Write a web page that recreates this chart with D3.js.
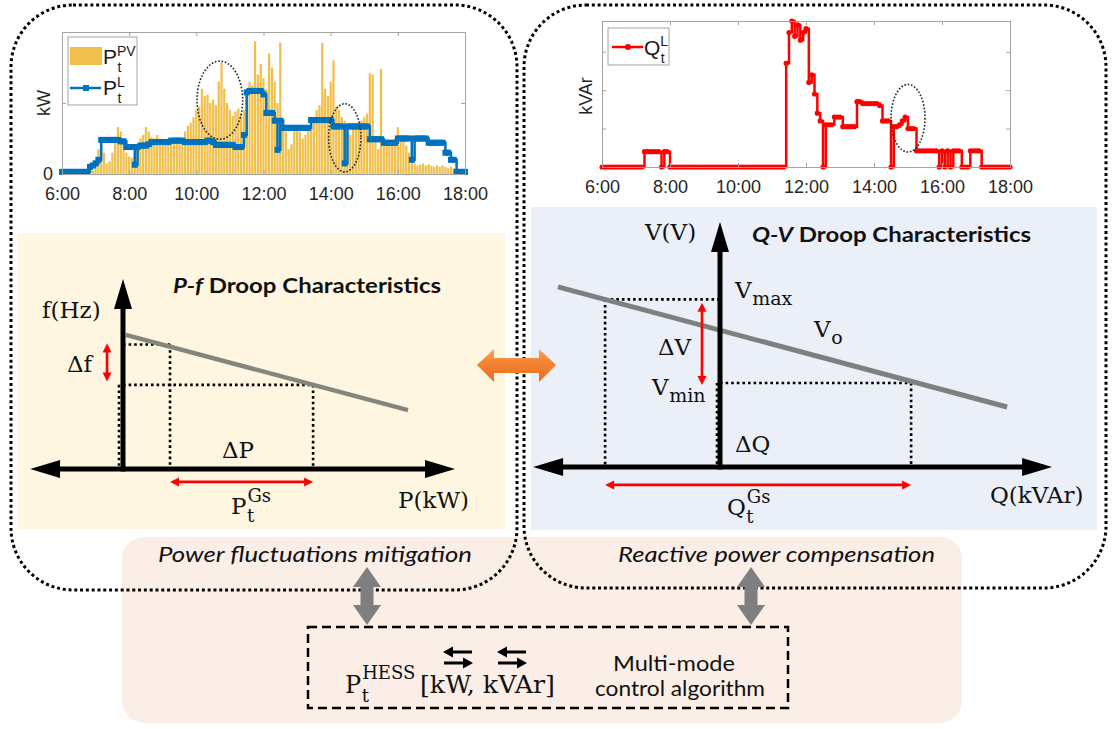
<!DOCTYPE html>
<html>
<head>
<meta charset="utf-8">
<script src="https://cdn.jsdelivr.net/npm/d3@7"></script>
<style>
  body { margin: 0; background: #ffffff; }
  svg { display: block; }
</style>
</head>
<body>
<div id="chart"></div>
<script>
// ---------------- data ----------------
// samples every 5 minutes from 6:00 to 18:00 (145 points)
var sampleMinutes = 5;
var timeTicks = [6, 8, 10, 12, 14, 16, 18];

// PV generation, kW (yellow bars)
var pvValues = [
  0, 0, 0, 0, 0, 0, 0, 0, 0, 0, 0.02, 0.05,
  0.2, 0.35, 0.5, 0.3, 0.15, 0.18, 0.3, 0.5, 0.66, 0.6, 0.45, 0.3,
  0.25, 0.23, 0.25, 0.4, 0.5, 0.55, 0.66, 0.6, 0.52, 0.5, 0.55, 0.5,
  0.45, 0.45, 0.47, 0.45, 0.47, 0.5, 0.47, 0.5, 0.6, 0.68, 0.72, 0.8,
  0.9, 0.95, 1.2, 1.1, 1.12, 1.0, 1.05, 0.97, 1.3, 1.57, 1.2, 1.0,
  0.9, 0.82, 0.88, 0.92, 0.85, 0.9, 1.2, 1.3, 1.25, 1.87, 1.4, 1.55,
  1.35, 1.2, 1.7, 1.5, 1.3, 1.0, 1.85, 0.79, 0.6, 0.35, 0.42, 0.62,
  0.65, 0.6, 0.5, 0.55, 0.68, 0.7, 0.75, 0.9, 0.97, 1.85, 1.2, 1.1,
  1.3, 1.6, 0.95, 0.9, 0.8, 0.75, 0.6, 0.55, 0.65, 0.65, 0.7, 0.75,
  0.8, 0.85, 1.42, 1.4, 0.5, 0.35, 1.48, 0.45, 0.42, 0.45, 0.48, 0.5,
  0.66, 0.45, 0.5, 0.4, 0.3, 0.22, 0.15, 0.12, 0.13, 0.15, 0.12, 0.14,
  0.12, 0.1, 0.12, 0.1, 0.12, 0.1, 0.08, 0.1, 0.08, 0.05, 0.02, 0,
  0
];

// load active power, kW (blue steps)
var loadValues = [
  0.03, 0.03, 0.03, 0.03, 0.03, 0.03, 0.03, 0.03, 0.03, 0.03, 0.1, 0.12,
  0.15, 0.2, 0.48, 0.48, 0.48, 0.48, 0.48, 0.48, 0.48, 0.46, 0.46, 0.38,
  0.38, 0.38, 0.13, 0.38, 0.4, 0.4, 0.4, 0.42, 0.45, 0.45, 0.45, 0.45,
  0.45, 0.45, 0.45, 0.47, 0.47, 0.47, 0.47, 0.47, 0.45, 0.45, 0.45, 0.45,
  0.45, 0.45, 0.45, 0.45, 0.47, 0.47, 0.45, 0.41, 0.41, 0.41, 0.41, 0.41,
  0.41, 0.41, 0.38, 0.38, 0.38, 0.55, 1.15, 1.17, 1.17, 1.17, 1.17, 1.17,
  1.12, 0.86, 0.86, 0.86, 0.75, 0.34, 0.75, 0.65, 0.65, 0.65, 0.65, 0.65,
  0.65, 0.65, 0.65, 0.65, 0.65, 0.76, 0.76, 0.76, 0.76, 0.76, 0.76, 0.76,
  0.76, 0.67, 0.67, 0.67, 0.67, 0.15, 0.67, 0.67, 0.67, 0.67, 0.67, 0.67,
  0.67, 0.67, 0.49, 0.49, 0.49, 0.49, 0.49, 0.44, 0.44, 0.44, 0.44, 0.44,
  0.5, 0.5, 0.5, 0.5, 0.5, 0.2, 0.5, 0.5, 0.5, 0.5, 0.5, 0.44,
  0.44, 0.44, 0.44, 0.44, 0.44, 0.3, 0.3, 0.2, 0.2, 0.03, 0.03, 0.03,
  0.03
];

// load reactive power, kVAr (red steps)
var qValues = [
  0, 0, 0, 0, 0, 0, 0, 0, 0, 0, 0, 0,
  0, 0, 0, 0.4, 0.4, 0.4, 0.4, 0.4, 0.4, 0, 0.4, 0.4,
  0, 0, 0, 0, 0, 0, 0, 0, 0, 0, 0, 0,
  0, 0, 0, 0, 0, 0, 0, 0, 0, 0, 0, 0,
  0, 0, 0, 0, 0, 0, 0, 0, 0, 0, 0, 0,
  0, 0, 0, 0, 0, 2.7, 3.5, 3.8, 3.4, 3.7, 3.3, 3.5,
  3.6, 2.2, 2.4, 1.9, 1.4, 1.2, 0, 1.1, 1.1, 1.1, 1.3, 1.3,
  1.3, 1.05, 1.05, 1.05, 1.05, 1.05, 1.7, 1.7, 1.65, 1.65, 1.65, 1.65,
  1.65, 1.65, 1.6, 1.2, 1.2, 1.2, 0, 1.05, 1.05, 1.1, 1.2, 1.3,
  1.0, 1.0, 1.0, 0.42, 0.42, 0.42, 0.42, 0.42, 0.42, 0.42, 0.42, 0,
  0.42, 0, 0.42, 0, 0.42, 0.42, 0.42, 0, 0, 0, 0.42, 0.42,
  0.42, 0.42, 0, 0, 0, 0, 0, 0, 0, 0, 0, 0,
  0
];

// dotted ellipses marking fluctuations: [time centre, value centre, time radius, value radius]
var pEllipses = [[10.7, 1.04, 0.68, 0.55], [14.42, 0.51, 0.48, 0.48]];
var qEllipses = [[15.0, 1.27, 0.5, 0.88]];

// P-f droop sketch (arbitrary units)
var pfAxisP = [-3.26, 11.65];
var pfAxisF = 10;
var pfDroopP = [0.1, 10];
var pfDroopF = [7.06, 3.1];
var pfOpP = [1.65, 6.67];
var pfOpF = [6.55, 4.43];

// Q-V droop sketch (arbitrary units)
var qvAxisQ = [-6.23, 11.07];
var qvAxisV = 10;
var qvDroopQ = [-5.4, 9.57];
var qvDroopV = [7.35, 2.45];
var qvOpQ = [-3.83, 6.37];
var qvOpV = [6.84, 3.43];

// ---------------- page ----------------
var mathFont = "'DejaVu Serif', serif";
var sansFont = "Lato, 'Open Sans', sans-serif";
var plotFont = "'Liberation Sans', Arial, sans-serif";

var svg = d3.select("#chart")
  .append("svg")
  .attr("width", 1112)
  .attr("height", 729);

var defs = svg.append("defs");
var grad = defs.append("linearGradient").attr("id", "orangeGrad")
  .attr("x1", 0).attr("y1", 0).attr("x2", 0).attr("y2", 1);
grad.append("stop").attr("offset", "0%").attr("stop-color", "#f9a25a");
grad.append("stop").attr("offset", "45%").attr("stop-color", "#f38131");
grad.append("stop").attr("offset", "100%").attr("stop-color", "#e8701f");

function timeAt(i) { return 6 + i * sampleMinutes / 60; }

// coloured panels
svg.append("rect").attr("x", 122).attr("y", 537).attr("width", 840).attr("height", 186)
  .attr("rx", 22).attr("fill", "#fbeee6");
svg.append("rect").attr("x", 17).attr("y", 233).attr("width", 488).attr("height", 296)
  .attr("fill", "#fff6e2");
svg.append("rect").attr("x", 531).attr("y", 207).attr("width", 566).attr("height", 323)
  .attr("fill", "#eaeff8");

// dotted rounded frames
[[11, 5, 506, 585], [524, 5, 582, 583]].forEach(function(f) {
  svg.append("rect")
    .attr("x", f[0]).attr("y", f[1]).attr("width", f[2]).attr("height", f[3])
    .attr("rx", 62).attr("fill", "none")
    .attr("stroke", "#000").attr("stroke-width", 3)
    .attr("stroke-dasharray", "3,2.8");
});

// ---------------- axis box helper for the two time plots ----------------
function drawBox(g, x, y, yTicks, yFormat) {
  var x0 = x.range()[0], x1 = x.range()[1];
  var y0 = y.range()[0], y1 = y.range()[1];
  var parts = [
    g.append("g").attr("transform", "translate(0," + y0 + ")")
      .call(d3.axisBottom(x).tickValues(timeTicks).tickFormat(function(d) { return d + ":00"; })
        .tickSizeInner(-4).tickSizeOuter(0).tickPadding(13)),
    g.append("g").attr("transform", "translate(0," + y1 + ")")
      .call(d3.axisTop(x).tickValues(timeTicks).tickFormat("").tickSizeInner(-4).tickSizeOuter(0)),
    g.append("g").attr("transform", "translate(" + x0 + ",0)")
      .call(d3.axisLeft(y).tickValues(yTicks).tickFormat(yFormat).tickSizeInner(-4).tickSizeOuter(0).tickPadding(9)),
    g.append("g").attr("transform", "translate(" + x1 + ",0)")
      .call(d3.axisRight(y).tickValues(yTicks).tickFormat("").tickSizeInner(-4).tickSizeOuter(0))
  ];
  parts.forEach(function(a) {
    a.attr("font-family", plotFont).attr("font-size", 18);
    a.select(".domain").attr("stroke", "#a3a3a3");
    a.selectAll(".tick line").attr("stroke", "#a3a3a3");
    a.selectAll(".tick text").attr("fill", "#262626");
  });
}

// ---------------- top-left: PV and load ----------------
var pX = d3.scaleLinear().domain([6, 18]).range([62, 465]);
var pY = d3.scaleLinear().domain([0, 2]).range([174, 32]);
var gP = svg.append("g");

var barStep = pX(timeAt(1)) - pX(timeAt(0));
gP.selectAll(".pv")
  .data(pvValues)
  .enter()
  .append("rect")
  .attr("class", "pv")
  .attr("fill", "#f1bf4c")
  .attr("x", function(d, i) { return pX(timeAt(i)) - barStep * 0.4; })
  .attr("width", barStep * 0.8)
  .attr("y", function(d) { return pY(d); })
  .attr("height", function(d) { return pY(0) - pY(d); });

var loadLine = d3.line()
  .curve(d3.curveStepAfter)
  .x(function(d, i) { return pX(timeAt(i)); })
  .y(function(d) { return pY(d); });

gP.append("path")
  .datum(loadValues)
  .attr("fill", "none")
  .attr("stroke", "#0072bd")
  .attr("stroke-width", 2.5)
  .attr("d", loadLine);

gP.selectAll(".loadPt")
  .data(loadValues)
  .enter()
  .append("rect")
  .attr("class", "loadPt")
  .attr("fill", "#0072bd")
  .attr("x", function(d, i) { return pX(timeAt(i)) - 3; })
  .attr("y", function(d) { return pY(d) - 3; })
  .attr("width", 6)
  .attr("height", 6);

gP.selectAll(".ell")
  .data(pEllipses)
  .enter()
  .append("ellipse")
  .attr("cx", function(d) { return pX(d[0]); })
  .attr("cy", function(d) { return pY(d[1]); })
  .attr("rx", function(d) { return pX(d[0] + d[2]) - pX(d[0]); })
  .attr("ry", function(d) { return pY(0) - pY(d[3]); })
  .attr("fill", "none")
  .attr("stroke", "#222")
  .attr("stroke-width", 1.6)
  .attr("stroke-dasharray", "1.6,1.8");

drawBox(gP, pX, pY, [0, 1], function(d) { return d === 0 ? "0" : ""; });

gP.append("text")
  .attr("transform", "translate(50,103) rotate(-90)")
  .attr("text-anchor", "middle")
  .attr("font-family", plotFont).attr("font-size", 18).attr("fill", "#262626")
  .text("kW");

// legend
gP.append("rect").attr("x", 68).attr("y", 37).attr("width", 69).attr("height", 68)
  .attr("fill", "#fff").attr("stroke", "#a3a3a3");
gP.append("rect").attr("x", 70).attr("y", 47).attr("width", 32).attr("height", 18).attr("fill", "#f1bf4c");
gP.append("line").attr("x1", 70).attr("x2", 101).attr("y1", 88).attr("y2", 88)
  .attr("stroke", "#0072bd").attr("stroke-width", 2.5);
gP.append("rect").attr("x", 83).attr("y", 85).attr("width", 6).attr("height", 6).attr("fill", "#0072bd");

function plotSymbol(g, x, y, main, sup, sub, supDy, subDy) {
  var t = g.append("text").attr("x", x).attr("y", y)
    .attr("font-family", plotFont).attr("font-size", 21).attr("fill", "#1a1a1a").text(main);
  var w = t.node().getComputedTextLength();
  g.append("text").attr("x", x + w).attr("y", y + supDy)
    .attr("font-family", plotFont).attr("font-size", 14).attr("fill", "#1a1a1a").text(sup);
  g.append("text").attr("x", x + w + 0.5).attr("y", y + subDy)
    .attr("font-family", plotFont).attr("font-size", 14).attr("fill", "#1a1a1a").text(sub);
}
plotSymbol(gP, 103, 64, "P", "PV", "t", -8, 8);
plotSymbol(gP, 103, 95, "P", "L", "t", -8, 8);

// ---------------- top-right: reactive load ----------------
var qX = d3.scaleLinear().domain([6, 18]).range([602, 1010]);
var qY = d3.scaleLinear().domain([0, 3.8]).range([167, 21]);
var gQ = svg.append("g");

var qLine = d3.line()
  .curve(d3.curveStepAfter)
  .x(function(d, i) { return qX(timeAt(i)); })
  .y(function(d) { return qY(d); });

gQ.append("path")
  .datum(qValues)
  .attr("fill", "none")
  .attr("stroke", "#ff0000")
  .attr("stroke-width", 2.5)
  .attr("d", qLine);

gQ.selectAll(".qPt")
  .data(qValues)
  .enter()
  .append("circle")
  .attr("class", "qPt")
  .attr("fill", "#ff0000")
  .attr("cx", function(d, i) { return qX(timeAt(i)); })
  .attr("cy", function(d) { return qY(d); })
  .attr("r", 2.6);

gQ.selectAll(".ell")
  .data(qEllipses)
  .enter()
  .append("ellipse")
  .attr("cx", function(d) { return qX(d[0]); })
  .attr("cy", function(d) { return qY(d[1]); })
  .attr("rx", function(d) { return qX(d[0] + d[2]) - qX(d[0]); })
  .attr("ry", function(d) { return qY(0) - qY(d[3]); })
  .attr("fill", "none")
  .attr("stroke", "#222")
  .attr("stroke-width", 1.6)
  .attr("stroke-dasharray", "1.6,1.8");

drawBox(gQ, qX, qY, [1, 2, 3], "");

gQ.append("text")
  .attr("transform", "translate(592,96) rotate(-90)")
  .attr("text-anchor", "middle")
  .attr("font-family", plotFont).attr("font-size", 18).attr("fill", "#262626")
  .text("kVAr");

gQ.append("rect").attr("x", 608).attr("y", 28).attr("width", 61).attr("height", 37)
  .attr("fill", "#fff").attr("stroke", "#a3a3a3");
gQ.append("line").attr("x1", 612).attr("x2", 643).attr("y1", 47).attr("y2", 47)
  .attr("stroke", "#ff0000").attr("stroke-width", 2.5);
gQ.append("circle").attr("cx", 628).attr("cy", 47).attr("r", 3).attr("fill", "#ff0000");
plotSymbol(gQ, 644, 55, "Q", "L", "t", -9, 8);

// ---------------- droop sketch helpers ----------------
function arrowHead(g, tipX, tipY, dirX, dirY, len, half, color) {
  var bx = tipX - dirX * len, by = tipY - dirY * len;
  var px = -dirY * half, py = dirX * half;
  g.append("path")
    .attr("d", "M" + tipX + "," + tipY + "L" + (bx + px) + "," + (by + py) + "L" + (bx - px) + "," + (by - py) + "Z")
    .attr("fill", color);
}

function dotted(g, x1, y1, x2, y2) {
  g.append("line").attr("x1", x1).attr("y1", y1).attr("x2", x2).attr("y2", y2)
    .attr("stroke", "#000").attr("stroke-width", 2.6).attr("stroke-dasharray", "2.6,3");
}

function redArrow(g, x1, y1, x2, y2) {
  var len = Math.hypot(x2 - x1, y2 - y1), ux = (x2 - x1) / len, uy = (y2 - y1) / len;
  g.append("line").attr("x1", x1 + ux * 6).attr("y1", y1 + uy * 6)
    .attr("x2", x2 - ux * 6).attr("y2", y2 - uy * 6)
    .attr("stroke", "#ff0000").attr("stroke-width", 2.6);
  arrowHead(g, x2, y2, ux, uy, 9, 4.5, "#ff0000");
  arrowHead(g, x1, y1, -ux, -uy, 9, 4.5, "#ff0000");
}

function mathSym(g, x, y, main, sub, sup, opts) {
  opts = opts || {};
  var size = opts.size || 23, small = opts.small || 19;
  var t = g.append("text").attr("x", x).attr("y", y)
    .attr("font-family", mathFont).attr("font-size", size).attr("fill", "#111").text(main);
  var w = t.node().getComputedTextLength();
  if (sup) g.append("text").attr("x", x + w + 1).attr("y", y + (opts.supDy || -12))
    .attr("font-family", mathFont).attr("font-size", small).attr("fill", "#111").text(sup);
  if (sub) g.append("text").attr("x", x + w + (opts.subDx || 0.5)).attr("y", y + (opts.subDy || 7))
    .attr("font-family", mathFont).attr("font-size", small).attr("fill", "#111").text(sub);
}

function title(g, x, y, italicPart, rest, width) {
  var t = g.append("text").attr("x", x).attr("y", y)
    .attr("font-family", sansFont).attr("font-size", 21).attr("font-weight", 700).attr("fill", "#111")
    .attr("textLength", width).attr("lengthAdjust", "spacingAndGlyphs");
  t.append("tspan").attr("font-style", "italic").text(italicPart);
  t.append("tspan").text(rest);
}

// ---------------- P-f droop ----------------
var pfX = d3.scaleLinear().domain([0, 10]).range([123, 408]);
var pfY = d3.scaleLinear().domain([0, 10]).range([469, 279]);
var gPF = svg.append("g");

dotted(gPF, pfX(0), pfY(pfOpF[0]), pfX(pfOpP[0]), pfY(pfOpF[0]));
dotted(gPF, pfX(pfOpP[0]), pfY(pfOpF[0]), pfX(pfOpP[0]), pfY(0));
dotted(gPF, pfX(0), pfY(pfOpF[1]), pfX(pfOpP[1]), pfY(pfOpF[1]));
dotted(gPF, pfX(pfOpP[1]), pfY(pfOpF[1]), pfX(pfOpP[1]), pfY(0));
dotted(gPF, pfX(-0.14), pfY(pfOpF[1]), pfX(-0.14), pfY(0));

gPF.append("line")
  .attr("x1", pfX(pfDroopP[0])).attr("y1", pfY(pfDroopF[0]))
  .attr("x2", pfX(pfDroopP[1])).attr("y2", pfY(pfDroopF[1]))
  .attr("stroke", "#85857f").attr("stroke-width", 4.5);

// axes
gPF.append("line").attr("x1", pfX(pfAxisP[0]) + 25).attr("x2", pfX(pfAxisP[1]) - 25)
  .attr("y1", pfY(0)).attr("y2", pfY(0)).attr("stroke", "#000").attr("stroke-width", 5);
arrowHead(gPF, pfX(pfAxisP[0]), pfY(0), -1, 0, 30, 9, "#000");
arrowHead(gPF, pfX(pfAxisP[1]), pfY(0), 1, 0, 30, 9, "#000");
gPF.append("line").attr("x1", pfX(0)).attr("x2", pfX(0))
  .attr("y1", pfY(0) + 2.5).attr("y2", pfY(pfAxisF) + 25).attr("stroke", "#000").attr("stroke-width", 5);
arrowHead(gPF, pfX(0), pfY(pfAxisF), 0, -1, 30, 9, "#000");

redArrow(gPF, pfX(-0.56), pfY(6.6), pfX(-0.56), pfY(4.6));
redArrow(gPF, pfX(pfOpP[0]), pfY(-0.68), pfX(pfOpP[1]), pfY(-0.68));

title(gPF, 173, 293, "P-f", " Droop Characteristics", 268);
mathSym(gPF, 42, 318, "f(Hz)");
mathSym(gPF, 67, 372, "\u0394f");
mathSym(gPF, 222, 458, "\u0394P");
mathSym(gPF, 398, 508, "P(kW)");
mathSym(gPF, 231, 514, "P", "t", "Gs", { small: 18, supDy: -12, subDy: 8 });

// ---------------- Q-V droop ----------------
var qvX = d3.scaleLinear().domain([0, 10]).range([720, 1020]);
var qvY = d3.scaleLinear().domain([0, 10]).range([467, 222]);
var gQV = svg.append("g");

dotted(gQV, qvX(qvOpQ[0]), qvY(qvOpV[0]), qvX(0), qvY(qvOpV[0]));
dotted(gQV, qvX(qvOpQ[0]), qvY(qvOpV[0]), qvX(qvOpQ[0]), qvY(0));
dotted(gQV, qvX(0), qvY(qvOpV[1]), qvX(qvOpQ[1]), qvY(qvOpV[1]));
dotted(gQV, qvX(qvOpQ[1]), qvY(qvOpV[1]), qvX(qvOpQ[1]), qvY(0));
dotted(gQV, qvX(-0.1), qvY(qvOpV[1]), qvX(-0.1), qvY(0));

gQV.append("line")
  .attr("x1", qvX(qvDroopQ[0])).attr("y1", qvY(qvDroopV[0]))
  .attr("x2", qvX(qvDroopQ[1])).attr("y2", qvY(qvDroopV[1]))
  .attr("stroke", "#7f7f7f").attr("stroke-width", 5);

gQV.append("line").attr("x1", qvX(qvAxisQ[0]) + 25).attr("x2", qvX(qvAxisQ[1]) - 25)
  .attr("y1", qvY(0)).attr("y2", qvY(0)).attr("stroke", "#000").attr("stroke-width", 5);
arrowHead(gQV, qvX(qvAxisQ[0]), qvY(0), -1, 0, 30, 9, "#000");
arrowHead(gQV, qvX(qvAxisQ[1]), qvY(0), 1, 0, 30, 9, "#000");
gQV.append("line").attr("x1", qvX(0)).attr("x2", qvX(0))
  .attr("y1", qvY(0) + 2.5).attr("y2", qvY(qvAxisV) + 25).attr("stroke", "#000").attr("stroke-width", 5);
arrowHead(gQV, qvX(0), qvY(qvAxisV), 0, -1, 30, 9, "#000");

redArrow(gQV, qvX(-0.6), qvY(6.7), qvX(-0.6), qvY(3.35));
redArrow(gQV, qvX(qvOpQ[0]), qvY(-0.73), qvX(qvOpQ[1]), qvY(-0.73));

title(gQV, 752, 242, "Q-V", " Droop Characteristics", 279);
mathSym(gQV, 645, 240, "V(V)");
mathSym(gQV, 735, 298, "V", "max");
mathSym(gQV, 658, 355, "\u0394V");
mathSym(gQV, 652, 395, "V", "min");
mathSym(gQV, 814, 337, "V", "o");
mathSym(gQV, 735, 452, "\u0394Q");
mathSym(gQV, 990, 503, "Q(kVAr)");
mathSym(gQV, 727, 515, "Q", "t", "Gs", { small: 18, supDy: -12, subDy: 8 });

// ---------------- link arrows ----------------
svg.append("path")
  .attr("d", "M477,365 L494,349 L494,358 L539,358 L539,349 L556,365 L539,382 L539,373 L494,373 L494,382 Z")
  .attr("fill", "url(#orangeGrad)");

[367, 751].forEach(function(cx) {
  svg.append("path")
    .attr("d", "M" + cx + ",567 L" + (cx + 14) + ",587 L" + (cx + 6.5) + ",587 L" + (cx + 6.5) + ",605 L" +
      (cx + 14) + ",605 L" + cx + ",625 L" + (cx - 14) + ",605 L" + (cx - 6.5) + ",605 L" +
      (cx - 6.5) + ",587 L" + (cx - 14) + ",587 Z")
    .attr("fill", "#7f7f7f");
});

// ---------------- bottom panel ----------------
var gB = svg.append("g");
gB.append("text").attr("x", 158).attr("y", 562)
  .attr("font-family", sansFont).attr("font-size", 21).attr("font-style", "italic").attr("fill", "#111")
  .attr("textLength", 314).attr("lengthAdjust", "spacingAndGlyphs")
  .text("Power fluctuations mitigation");
gB.append("text").attr("x", 618).attr("y", 562)
  .attr("font-family", sansFont).attr("font-size", 21).attr("font-style", "italic").attr("fill", "#111")
  .attr("textLength", 317).attr("lengthAdjust", "spacingAndGlyphs")
  .text("Reactive power compensation");

gB.append("rect").attr("x", 308).attr("y", 627).attr("width", 480).attr("height", 81)
  .attr("fill", "none").attr("stroke", "#000").attr("stroke-width", 2.5).attr("stroke-dasharray", "9,5");

mathSym(gB, 345, 693, "P", "t", "HESS", { size: 24, small: 18, supDy: -14, subDy: 9 });
gB.append("text").attr("x", 420).attr("y", 693)
  .attr("font-family", mathFont).attr("font-size", 24).attr("fill", "#111")
  .attr("textLength", 135).attr("lengthAdjust", "spacingAndGlyphs")
  .text("[kW, kVAr]");

[443, 497].forEach(function(x0) {
  gB.append("line").attr("x1", x0 + 8).attr("x2", x0 + 29).attr("y1", 652).attr("y2", 652)
    .attr("stroke", "#000").attr("stroke-width", 3);
  arrowHead(gB, x0, 652, -1, 0, 10, 5.5, "#000");
  gB.append("line").attr("x1", x0 + 1).attr("x2", x0 + 22).attr("y1", 663).attr("y2", 663)
    .attr("stroke", "#000").attr("stroke-width", 3);
  arrowHead(gB, x0 + 30, 663, 1, 0, 10, 5.5, "#000");
});

gB.append("text").attr("x", 674).attr("y", 671).attr("text-anchor", "middle")
  .attr("font-family", sansFont).attr("font-size", 21).attr("fill", "#111")
  .attr("textLength", 122).attr("lengthAdjust", "spacingAndGlyphs")
  .text("Multi-mode");
gB.append("text").attr("x", 680).attr("y", 696).attr("text-anchor", "middle")
  .attr("font-family", sansFont).attr("font-size", 21).attr("fill", "#111")
  .attr("textLength", 170).attr("lengthAdjust", "spacingAndGlyphs")
  .text("control algorithm");
</script>
</body>
</html>
